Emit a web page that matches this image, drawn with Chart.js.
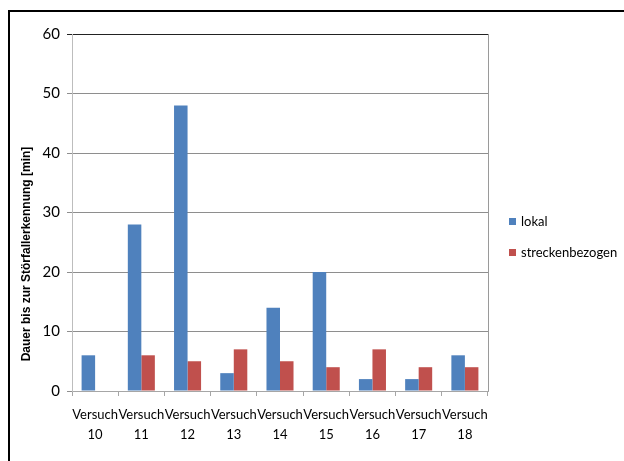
<!DOCTYPE html>
<html>
<head>
<meta charset="utf-8">
<title>Dauer bis zur Störfallerkennung</title>
<script src="https://cdn.jsdelivr.net/npm/chart.js@4/dist/chart.umd.min.js"></script>
<style>
  html, body { margin: 0; padding: 0; background: #fff; }
  #wrap { position: relative; width: 624px; height: 461px; overflow: hidden; }
  #frame { position: absolute; left: 8px; top: 10px; width: 640px; height: 480px;
           border-top: 2px solid #000; border-left: 2px solid #000; }
  #chart { position: absolute; left: 0; top: 0; }
  #legend { position: absolute; left: 509px; top: 0; color: #000;
            font: 13px Lato, 'DejaVu Sans Condensed', sans-serif; }
  .lg-item { position: absolute; left: 0; height: 20px; line-height: 20px; white-space: nowrap;
             display: flex; align-items: center; }
  .lg-box { width: 7px; height: 7px; margin-right: 5px; flex: none; }
</style>
</head>
<body>
<div id="wrap">
  <div id="frame"></div>
  <canvas id="chart" width="624" height="461"></canvas>
  <div id="legend"></div>
</div>
<script>
// Versuchsnummern (x-Achse)
const versuchNr = ['10', '11', '12', '13', '14', '15', '16', '17', '18'];
// Dauer bis zur Störfallerkennung in Minuten
const lokal = [6, 28, 48, 3, 14, 20, 2, 2, 6];
const streckenbezogen = [null, 6, 5, 7, 5, 4, 7, 4, 4];
// y-Achse
const yMin = 0;
const yMax = 60;
const yStep = 10;
const yTitle = 'Dauer bis zur Störfallerkennung [min]';

const labelFont = "Lato, 'DejaVu Sans Condensed', sans-serif";

// Titel der y-Achse, gedreht links neben der Achse
const yTitlePlugin = {
  id: 'yTitle',
  afterDraw(chart) {
    const ctx = chart.ctx;
    ctx.save();
    ctx.translate(27, 254);
    ctx.rotate(-Math.PI / 2);
    ctx.font = "bold 12px 'Liberation Sans', Arial, sans-serif";
    ctx.fillStyle = '#000';
    ctx.textAlign = 'center';
    ctx.textBaseline = 'middle';
    ctx.fillText(yTitle, 0, 0);
    ctx.restore();
  }
};

// rechter Rand der Zeichenfläche
const plotEdgePlugin = {
  id: 'plotEdge',
  afterDatasetsDraw(chart) {
    const a = chart.chartArea;
    const ctx = chart.ctx;
    ctx.save();
    ctx.strokeStyle = '#9a9a9a';
    ctx.lineWidth = 1;
    ctx.beginPath();
    ctx.moveTo(Math.round(a.right) + 0.5, a.top);
    ctx.lineTo(Math.round(a.right) + 0.5, a.bottom);
    ctx.stroke();
    ctx.restore();
  }
};

const chart = new Chart(document.getElementById('chart'), {
  type: 'bar',
  data: {
    labels: versuchNr.map(n => ['Versuch', n]),
    datasets: [
      { label: 'lokal', data: lokal, backgroundColor: '#4F81BD', borderWidth: 0 },
      { label: 'streckenbezogen', data: streckenbezogen, backgroundColor: '#C0504D', borderWidth: 0 }
    ]
  },
  options: {
    responsive: false,
    animation: false,
    devicePixelRatio: 1,
    layout: { padding: { left: 0, top: 34, right: 136, bottom: 0 } },
    datasets: { bar: { categoryPercentage: 0.585, barPercentage: 1.0 } },
    plugins: {
      legend: { display: false },
      tooltip: { enabled: false },
      title: { display: false }
    },
    scales: {
      x: {
        offset: true,
        grid: { display: true, drawOnChartArea: false, drawTicks: true, tickLength: 5, color: '#a6a6a6', offset: true },
        border: { display: true, color: '#a6a6a6', width: 1 },
        ticks: {
          autoSkip: false, maxRotation: 0, minRotation: 0, padding: 9, color: '#000',
          font: { family: labelFont, size: 13, lineHeight: 1.54 }
        },
        afterFit(scale) { scale.height = 70; }
      },
      y: {
        min: yMin, max: yMax,
        grid: {
          drawTicks: true, tickLength: 5,
          color: ctx => (ctx.tick && ctx.tick.value === yMax) ? '#222' : '#8e8e8e'
        },
        border: { display: true, color: '#bdbdbd', width: 1 },
        ticks: {
          stepSize: yStep, padding: 7, color: '#000',
          font: { family: labelFont, size: 15 }
        },
        afterFit(scale) { scale.width = 72; }
      }
    }
  },
  plugins: [yTitlePlugin, plotEdgePlugin]
});

// Legende aus den Datensätzen des Diagramms
const legendEl = document.getElementById('legend');
const legendTops = [211, 242];
chart.data.datasets.forEach((ds, i) => {
  const item = document.createElement('div');
  item.className = 'lg-item';
  item.style.top = legendTops[i] + 'px';
  const box = document.createElement('span');
  box.className = 'lg-box';
  box.style.background = ds.backgroundColor;
  const txt = document.createElement('span');
  txt.textContent = ds.label;
  item.appendChild(box);
  item.appendChild(txt);
  legendEl.appendChild(item);
});
</script>
</body>
</html>
